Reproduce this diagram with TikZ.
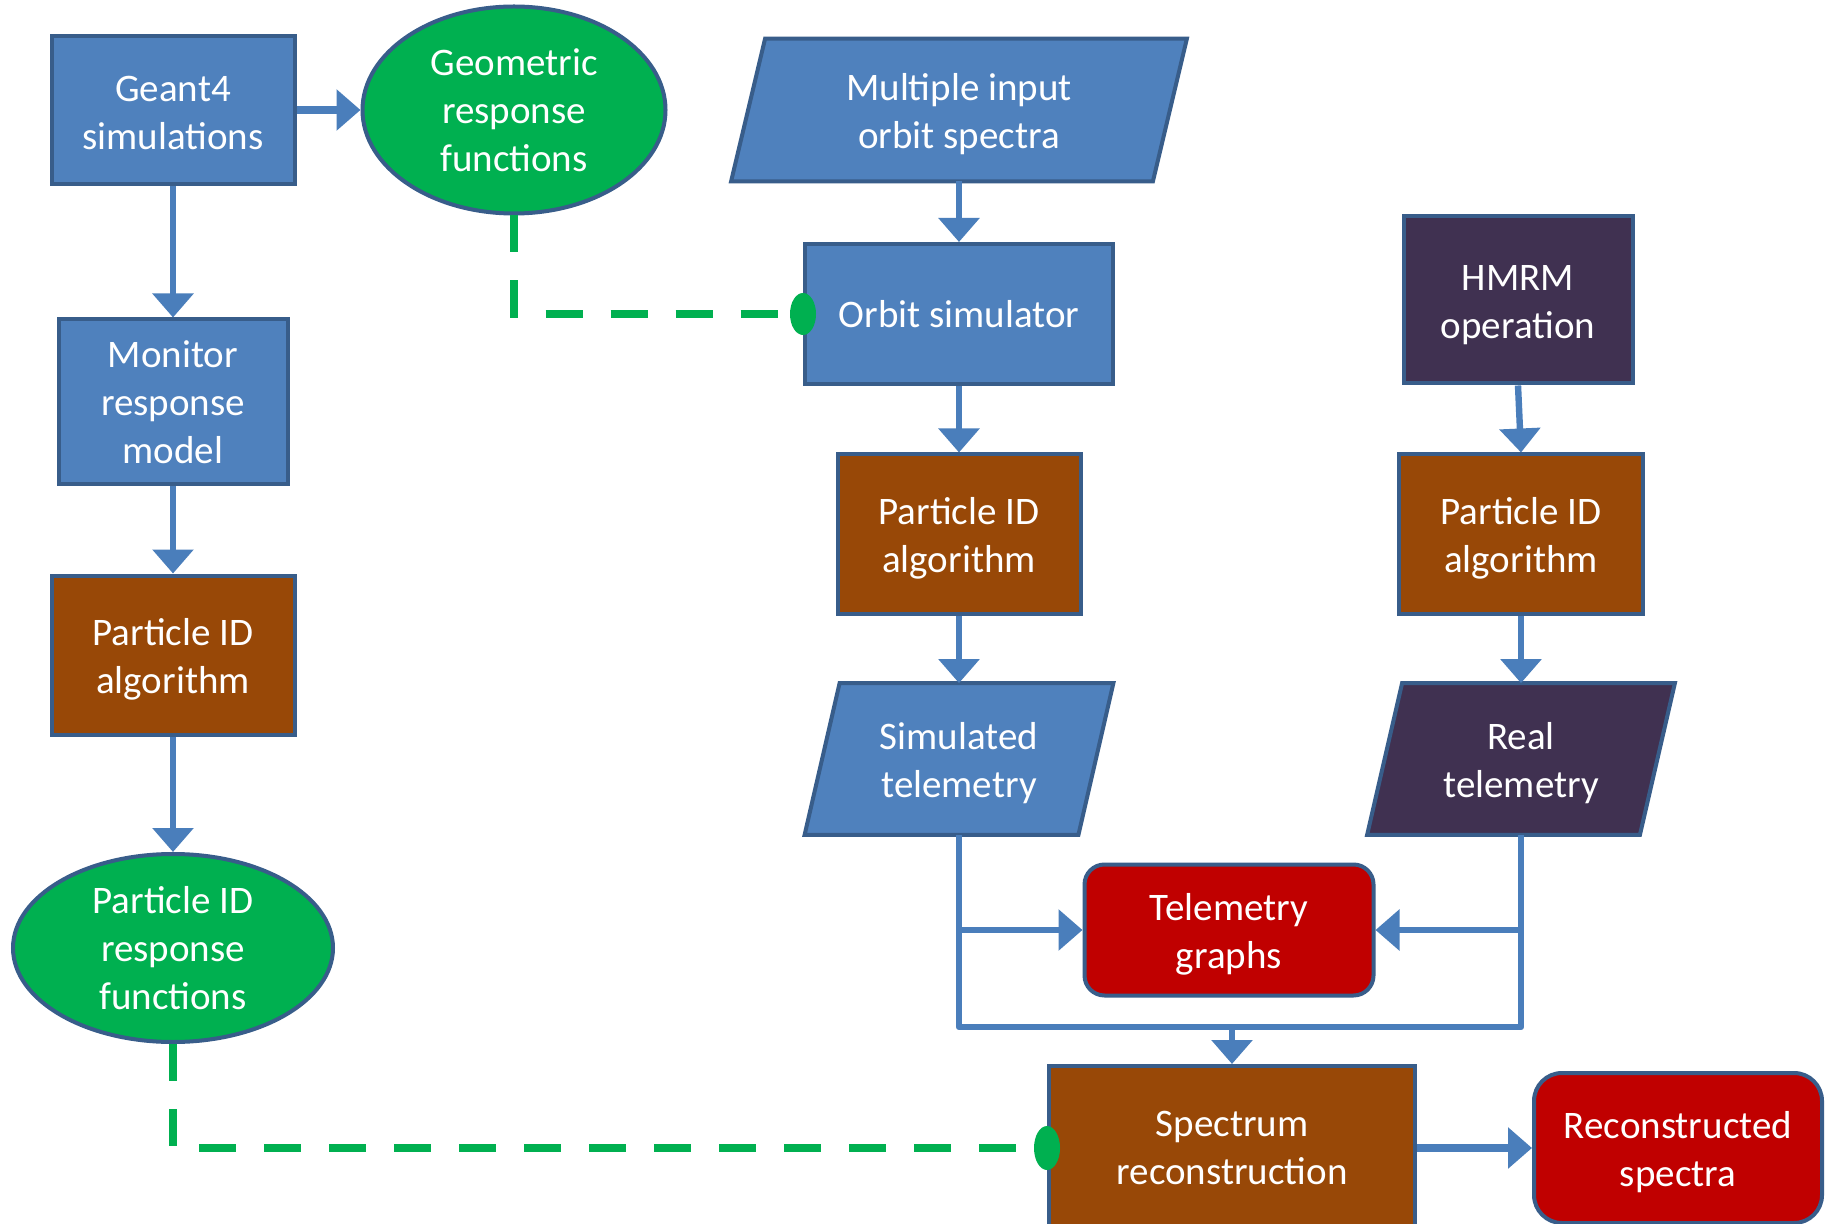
\documentclass[tikz,border=0pt]{standalone}
\usepackage{fontspec}
\setmainfont{Carlito}
\usetikzlibrary{arrows.meta,shapes.geometric,backgrounds}
\definecolor{cblue}{HTML}{4F81BD}
\definecolor{cborder}{HTML}{385D8A}
\definecolor{cgreen}{HTML}{00B050}
\definecolor{cbrown}{HTML}{984807}
\definecolor{cpurple}{HTML}{403151}
\definecolor{cred}{HTML}{C00000}
\definecolor{carrow}{HTML}{4A7EBB}
\newcommand{\dn}{\rule{0pt}{18pt}}
\begin{document}
\begin{tikzpicture}[x=0.5pt,y=-0.5pt,
  txt/.style={text=white, align=center, font=\fontsize{19.5}{24}\selectfont, inner sep=0pt},
  base/.style={txt, draw=cborder, line width=2pt},
  bluebox/.style={base, rectangle, fill=cblue},
  brownbox/.style={base, rectangle, fill=cbrown},
  purplebox/.style={base, rectangle, fill=cpurple},
  redbox/.style={base, rectangle, rounded corners=10pt, fill=cred},
  greenell/.style={base, ellipse, fill=cgreen},
  datanode/.style={txt, rectangle},
  parashape/.style={draw=cborder, line width=2pt, line join=miter},
  flow/.style={draw=carrow, line width=3.2pt, -{Triangle[width=20pt,length=12pt]}},
  link/.style={draw=carrow, line width=3.2pt},
  dashlink/.style={draw=cgreen, line width=4pt, dash pattern=on 18.5pt off 14pt},
  gdot/.style={ellipse, fill=cgreen, inner sep=0pt, minimum width=13pt, minimum height=21pt}
]
\useasboundingbox (0,0) rectangle (1830,1224);

% left column
\node[bluebox, minimum width=121.5pt, minimum height=74pt] (geant) at (173,110) {\rule{0pt}{15.5pt}Geant4\\simulations};
\node[greenell, minimum width=151.5pt, minimum height=103.5pt] (geom) at (514,110) {Geometric\\response\\functions};
\node[bluebox, minimum width=114.5pt, minimum height=82.5pt] (monitor) at (173,402) {Monitor\\response\\model};
\node[brownbox, minimum width=121.5pt, minimum height=79.5pt] (pidl) at (173,655) {\dn Particle ID\\algorithm};
\node[greenell, minimum width=160pt, minimum height=94pt] (pidresp) at (173,948) {Particle ID\\response\\functions};

% middle column
\node[datanode, minimum width=227.5pt, minimum height=71pt] (multi) at (959,110) {\dn Multiple input\\orbit spectra};
\node[bluebox, minimum width=154pt, minimum height=70pt] (orbit) at (959,314) {Orbit simulator};
\node[brownbox, minimum width=121.5pt, minimum height=79.5pt] (pidm) at (959,534) {\dn Particle ID\\algorithm};
\node[datanode, minimum width=154pt, minimum height=75.5pt] (simtel) at (959,759) {\dn Simulated\\telemetry};

% right column
\node[purplebox, minimum width=114.5pt, minimum height=83.5pt] (hmrm) at (1518,300) {\dn HMRM\\operation};
\node[brownbox, minimum width=122pt, minimum height=79.5pt] (pidr) at (1521,534) {\dn Particle ID\\algorithm};
\node[datanode, minimum width=153.5pt, minimum height=75.5pt] (realtel) at (1521,759) {\dn Real\\telemetry};

% bottom
\node[redbox, minimum width=144.5pt, minimum height=65.5pt] (telg) at (1229,930) {\dn Telemetry\\graphs};
\node[brownbox, minimum width=183pt, minimum height=82pt] (spec) at (1232,1148) {Spectrum\\reconstruction};
\node[redbox, rounded corners=14pt, minimum width=144pt, minimum height=75pt] (recon) at (1678,1148) {\dn Reconstructed\\spectra};

% parallelogram bodies
\begin{scope}[on background layer]
\fill[white] (0,0) rectangle (1830,1224);
\path[parashape, fill=cblue] ([xshift=17pt]multi.north west) -- (multi.north east) -- ([xshift=-17pt]multi.south east) -- (multi.south west) -- cycle;
\path[parashape, fill=cblue] ([xshift=17.5pt]simtel.north west) -- (simtel.north east) -- ([xshift=-17.5pt]simtel.south east) -- (simtel.south west) -- cycle;
\path[parashape, fill=cpurple] ([xshift=17.5pt]realtel.north west) -- (realtel.north east) -- ([xshift=-17.5pt]realtel.south east) -- (realtel.south west) -- cycle;
\end{scope}

% connectors
\draw[flow, line width=4pt] (geant.east) -- (geom.west);
\draw[flow] (geant.south) -- (monitor.north);
\draw[flow] (monitor.south) -- (pidl.north);
\draw[flow] (pidl.south) -- (pidresp.north);
\draw[flow] (multi.south) -- (orbit.north);
\draw[flow] (orbit.south) -- (pidm.north);
\draw[flow] (pidm.south) -- (simtel.north);
\draw[flow] (hmrm.south) -- (pidr.north);
\draw[flow] (pidr.south) -- (realtel.north);

\coordinate (jn) at (1232,1027);
\draw[link, line join=round] (simtel.south) -- (simtel.south |- jn) -- (realtel.south |- jn) -- (realtel.south);
\draw[flow] (spec.north |- jn) -- (spec.north);
\draw[flow] (simtel.south |- telg.west) -- (telg.west);
\draw[flow] (realtel.south |- telg.east) -- (telg.east);
\draw[flow, line width=4pt] (spec.east) -- (recon.west);

% dashed links
\draw[dashlink] (geom.south) -- (geom.south |- orbit.west) -- (orbit.west);
\node[gdot] (dot1) at (orbit.west) {};
\draw[dashlink] (pidresp.south) -- (pidresp.south |- spec.west) -- (spec.west);
\node[gdot, minimum height=22pt] (dot2) at (spec.west) {};
\end{tikzpicture}
\end{document}
